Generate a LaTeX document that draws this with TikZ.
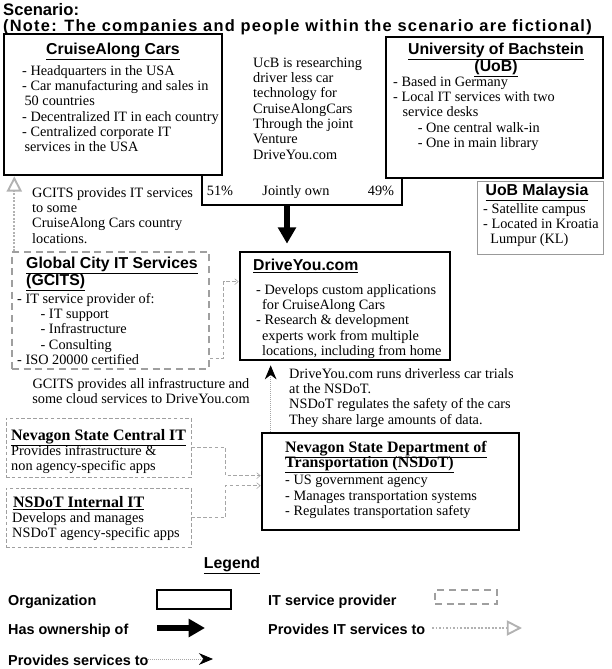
\documentclass[tikz,border=0pt]{standalone}
\usepackage{fontspec}
\setmainfont{Liberation Serif}
\newfontfamily\headsans{Liberation Sans}
\newfontfamily\notesans{Liberation Sans}[LetterSpace=7.5]
\usetikzlibrary{calc}
\usetikzlibrary{positioning}
\usetikzlibrary{fit}
\usetikzlibrary{arrows.meta}

\begin{document}
\begin{tikzpicture}[x=0.03cm, y=-0.03cm,
    orgbox/.style={draw=black, line width=2.3pt, inner sep=0pt},
    itbox/.style={draw=gray!75, line width=1.2pt, dash pattern=on 6pt off 4pt, inner sep=0pt},
    itboxthin/.style={draw=gray!75, line width=0.6pt, dash pattern=on 3pt off 2pt, inner sep=0pt},
    campusbox/.style={draw=gray!80, line width=0.7pt, inner sep=0pt},
    body/.style={inner sep=0pt, anchor=north west, align=left, font=\fontsize{12.2}{13.1}\selectfont},
    titletxt/.style={inner sep=0pt, anchor=north west, font=\bfseries\fontsize{14.2}{15}\selectfont},
    sanshead/.style={inner sep=0pt, font={\headsans\bfseries\fontsize{13.5}{14.5}\selectfont\lineskiplimit=-20pt}},
    serifhead/.style={inner sep=0pt, anchor=north west, align=left, font={\bfseries\fontsize{13.6}{12.9}\selectfont\lineskiplimit=-20pt}},
    legtxt/.style={inner sep=0pt, anchor=north west, font=\headsans\bfseries\fontsize{12.3}{14}\selectfont},
    ownarrow/.style={line width=5pt, -{Triangle[width=15pt, length=14pt]}},
    itarrow/.style={draw=gray!60, line width=1.6pt, dash pattern=on 1.6pt off 1.4pt, -{Triangle[open, width=13pt, length=13pt]}},
    svcarrow/.style={draw=gray!70, line width=0.7pt, densely dotted, -{Stealth[black, width=10pt, length=12pt]}},
    svclink/.style={draw=gray!70, line width=0.5pt, densely dashed, -{Straight Barb[length=3pt, width=5pt]}},
]
    \useasboundingbox (0,0) rectangle (611,669);

    \node [titletxt, font=\headsans\bfseries\fontsize{14.2}{15}\selectfont] (scen) at (3,3) {Scenario:};
    \node [titletxt, font=\notesans\bfseries\fontsize{14}{15}\selectfont] (note) at (3,19) {(Note: The companies and people within the scenario are fictional)};

    \node [orgbox, fit={(4,34) (222,175)}] (cruise) {};
    \node [sanshead, anchor=north] (cruiseHd) at (113,43) {\underline{CruiseAlong Cars}};
    \node [body] (cruiseTxt) at (22,65) {- Headquarters in the USA\\ - Car manufacturing and sales in\\ \hspace*{2pt}50 countries\\ - Decentralized IT in each country\\ - Centralized corporate IT\\ \hspace*{2pt}services in the USA};

    \node [orgbox, fit={(386,37) (603,178)}] (uob) {};
    \node [sanshead, anchor=north, align=center] (uobHd) at (496,43) {\underline{University of Bachstein}\\ \underline{(UoB)}};
    \node [body] (uobTxt) at (393,76) {- Based in Germany\\ - Local IT services with two\\ \hspace*{8pt}service desks\\ \hspace*{21pt}- One central walk-in\\ \hspace*{21pt}- One in main library};

    \node [campusbox, fit={(477,181) (603,254)}] (campus) {};
    \node [sanshead, anchor=north] (campusHd) at (537,184) {\underline{UoB Malaysia}};
    \node [body] (campusTxt) at (483,203) {- Satellite campus\\ - Located in Kroatia\\ \hspace*{6pt}Lumpur (KL)};

    \node [body] (ucbTxt) at (253,57) {UcB is researching\\ driver less car\\ technology for\\ CruiseAlongCars\\ Through the joint\\ Venture\\ DriveYou.com};

    \coordinate (jointL) at (202,205);
    \coordinate (jointR) at (402,205);
    \draw [line width=1.6pt] (cruise.south -| jointL) -- (jointL) -- (jointR) -- (uob.south -| jointR);
    \node [body, anchor=base] (pct51) at (220,195) {51\%};
    \node [body, anchor=base] (jointly) at (296,195) {Jointly own};
    \node [body, anchor=base] (pct49) at (381,195) {49\%};

    \node [orgbox, fit={(240,252) (450,360)}] (drive) {};
    \coordinate (ownTop) at (287,205);
    \draw [ownarrow, shorten >=0.21cm] (ownTop) -- (ownTop |- drive.north);
    \node [sanshead, anchor=north west] (driveHd) at (253,259) {\underline{DriveYou.com}};
    \node [body] (driveTxt) at (256,284) {- Develops custom applications\\ \hspace*{5pt}for CruiseAlong Cars\\ - Research \& development\\ \hspace*{5pt}experts work from multiple\\ \hspace*{5pt}locations, including from home};

    \node [body] (gcitsNote) at (32,187) {GCITS provides IT services\\ to some\\ CruiseAlong Cars country\\ locations.};
    \node [itbox, fit={(12,252) (209,369)}] (gcits) {};
    \node [sanshead, anchor=north west, align=left] (gcitsHd) at (26,257) {\underline{Global City IT Services}\\ \underline{(GCITS)}};
    \node [body] (gcitsTxt) at (17,293) {- IT service provider of:\\ \hspace*{20pt}- IT support\\ \hspace*{20pt}- Infrastructure\\ \hspace*{20pt}- Consulting\\ - ISO 20000 certified};
    \coordinate (itFoot) at ([xshift=0.09cm]gcits.north west);
    \draw [itarrow] (itFoot) -- (itFoot |- cruise.south);
    \draw [svclink] ($(gcits.south east)+(0,-11)$) -| ($(drive.north west)+(-15,31)$) -- ($(drive.north west)+(0,31)$);
    \node [body, align=center, anchor=north] (gcitsInfra) at (141,378) {GCITS provides all infrastructure and\\ some cloud services to DriveYou.com};

    \node [orgbox, fit={(262,433) (519,530)}] (nsdot) {};
    \node [serifhead] (nsdotHd) at (285,441) {\underline{Nevagon State Department of}\\ \underline{Transportation (NSDoT)}};
    \node [body] (nsdotTxt) at (285,475) {- US government agency\\ - Manages transportation systems\\ - Regulates transportation safety};
    \coordinate (nsUp) at ($(nsdot.north west)+(10,0)$);
    \draw [svcarrow, shorten >=0.12cm] (nsUp) -- (nsUp |- drive.south);
    \node [body] (trialTxt) at (289,368) {DriveYou.com runs driverless car trials\\ at the NSDoT.\\ NSDoT regulates the safety of the cars\\ They share large amounts of data.};

    \node [itboxthin, fit={(6,418) (191,477)}] (central) {};
    \node [serifhead] (centralHd) at (11,429) {\underline{Nevagon State Central IT}};
    \node [body] (centralTxt) at (11,445) {Provides infrastructure \&\\ non agency-specific apps};
    \node [itboxthin, fit={(6,488) (191,547)}] (internal) {};
    \node [serifhead] (internalHd) at (13,496) {\underline{NSDoT Internal IT}};
    \node [body] (internalTxt) at (12,512) {Develops and manages\\ NSDoT agency-specific apps};
    \draw [svclink] (central.east) -| ($(nsdot.north west)+(-35,44)$) -- ($(nsdot.north west)+(0,44)$);
    \draw [svclink] (internal.east) -| ($(nsdot.north west)+(-35,54)$) -- ($(nsdot.north west)+(0,54)$);

    \node [sanshead, anchor=north] (legend) at (232,557) {\underline{Legend}};
    \node [legtxt] (legOrg) at (8,595) {Organization};
    \node [orgbox, fit={(157,590) (231,609)}] (legOrgBox) {};
    \node [legtxt] (legIT) at (268,595) {IT service provider};
    \node [itbox, fit={(435,590) (497,604)}] (legITBox) {};
    \node [legtxt] (legOwn) at (8,624) {Has ownership of};
    \coordinate (legOwnA) at (157,628);
    \coordinate (legOwnB) at (205,628);
    \draw [ownarrow] (legOwnA) -- (legOwnB);
    \node [legtxt] (legITsvc) at (268,624) {Provides IT services to};
    \coordinate (legITA) at (432,628);
    \coordinate (legITB) at (522,628);
    \draw [itarrow] (legITA) -- (legITB);
    \node [legtxt] (legSvc) at (8,655) {Provides services to};
    \coordinate (legSvcA) at (148,659);
    \coordinate (legSvcB) at (213,659);
    \draw [svcarrow] (legSvcA) -- (legSvcB);
\end{tikzpicture}
\end{document}
